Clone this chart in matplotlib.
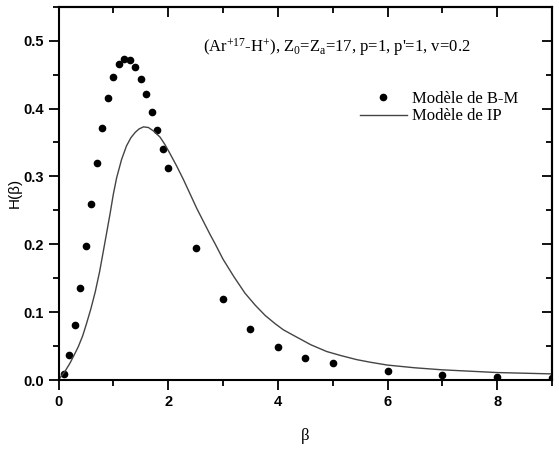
import matplotlib
matplotlib.use('Agg')
import matplotlib.pyplot as plt
from matplotlib.ticker import MultipleLocator

plt.rcParams['mathtext.fontset'] = 'custom'
plt.rcParams['mathtext.rm'] = 'Liberation Serif'
plt.rcParams['mathtext.it'] = 'Liberation Serif:italic'

# Modele de B-M (points)
bm_beta = [0.1, 0.2, 0.3, 0.4, 0.5, 0.6, 0.7, 0.8, 0.9, 1.0, 1.1, 1.2, 1.3,
           1.4, 1.5, 1.6, 1.7, 1.8, 1.9, 2.0, 2.5, 3.0, 3.5, 4.0, 4.5, 5.0,
           6.0, 7.0, 8.0, 9.0]
bm_H = [0.009, 0.037, 0.081, 0.135, 0.197, 0.260, 0.320, 0.372, 0.415,
        0.446, 0.465, 0.473, 0.471, 0.461, 0.443, 0.421, 0.395, 0.368,
        0.340, 0.312, 0.195, 0.119, 0.075, 0.049, 0.033, 0.025, 0.013,
        0.008, 0.005, 0.003]

# Modele de IP (courbe)
ip_beta = [0.0, 0.06, 0.12, 0.21, 0.28, 0.36, 0.44, 0.51, 0.59, 0.67, 0.75,
           0.82, 0.88, 0.94, 1.00, 1.06, 1.15, 1.24, 1.32, 1.40, 1.47, 1.55,
           1.64, 1.73, 1.85, 1.94, 2.03, 2.15, 2.28, 2.40, 2.52, 2.64, 2.76,
           2.86, 3.0, 3.2, 3.4, 3.59, 3.77, 3.95, 4.1, 4.28, 4.44, 4.6, 4.89,
           5.15, 5.44, 5.7, 6.0, 6.5, 7.0, 7.5, 8.0, 8.5, 9.0]
ip_H = [0.0, 0.007, 0.013, 0.025, 0.036, 0.049, 0.065, 0.083, 0.105, 0.130,
        0.160, 0.191, 0.218, 0.245, 0.274, 0.298, 0.325, 0.345, 0.357, 0.365,
        0.370, 0.373, 0.372, 0.367, 0.358, 0.347, 0.334, 0.316, 0.295, 0.274,
        0.253, 0.234, 0.215, 0.200, 0.178, 0.152, 0.128, 0.110, 0.095, 0.083,
        0.074, 0.066, 0.059, 0.052, 0.042, 0.036, 0.030, 0.026, 0.022, 0.018,
        0.015, 0.013, 0.011, 0.010, 0.009]

fig = plt.figure(figsize=(5.59, 4.51), dpi=100)
ax = fig.add_axes([0.1047, 0.1574, 0.8828, 0.8277])

ax.plot(bm_beta, bm_H, 'o', color='black', markersize=4.5,
        label='Modèle de B-M')
ax.plot(ip_beta, ip_H, '-', color='#444444', linewidth=1.0,
        label='Modèle de IP')

ax.set_xlim(0, 9)
ax.set_ylim(0, 0.55)
ax.xaxis.set_major_locator(MultipleLocator(2))
ax.xaxis.set_minor_locator(MultipleLocator(1))
ax.yaxis.set_major_locator(MultipleLocator(0.1))
ax.yaxis.set_minor_locator(MultipleLocator(0.05))

for s in ax.spines.values():
    s.set_linewidth(1.5)

ax.tick_params(which='both', direction='out', width=1.3,
               bottom=True, left=True, top=False, right=False)
ax.tick_params(which='major', length=7)
ax.tick_params(which='minor', length=4.5)
ax.set_yticklabels(['%.1f' % v for v in ax.get_yticks()])
for lab in ax.get_xticklabels() + ax.get_yticklabels():
    lab.set_family('Liberation Sans')
    lab.set_fontweight('bold')
    lab.set_fontsize(10.5)

# ticks interieurs sur le haut et la droite
sec_x = ax.secondary_xaxis('top')
sec_x.xaxis.set_major_locator(MultipleLocator(2))
sec_x.xaxis.set_minor_locator(MultipleLocator(1))
sec_x.tick_params(which='both', direction='in', width=1.3, labeltop=False)
sec_x.tick_params(which='major', length=7)
sec_x.tick_params(which='minor', length=4.5)
sec_x.spines['top'].set_linewidth(1.5)
sec_y = ax.secondary_yaxis('right')
sec_y.yaxis.set_major_locator(MultipleLocator(0.1))
sec_y.yaxis.set_minor_locator(MultipleLocator(0.05))
sec_y.tick_params(which='both', direction='in', width=1.3, labelright=False)
sec_y.tick_params(which='major', length=7)
sec_y.tick_params(which='minor', length=4.5)
sec_y.spines['right'].set_linewidth(1.5)

ax.set_xlabel('β', family='Liberation Serif', fontsize=12, labelpad=14)
ax.set_ylabel('H(β)', family='Liberation Sans', fontsize=11, labelpad=1)

ax.text(0.293, 0.893,
        r"(Ar$^{+17}$-H$^{+}$), Z$_0$=Z$_\mathrm{a}$=17, p=1, p'=1, v=0.2",
        transform=ax.transAxes, family='Liberation Serif', fontsize=12,
        va='center', ha='left')

ax.legend(loc='upper left', bbox_to_anchor=(0.611, 0.775), frameon=False,
          prop={'family': 'Liberation Serif', 'size': 12},
          borderpad=0, borderaxespad=0, handlelength=2.8,
          handletextpad=0.3, labelspacing=0.1)

fig.savefig('out.png', dpi=100)
